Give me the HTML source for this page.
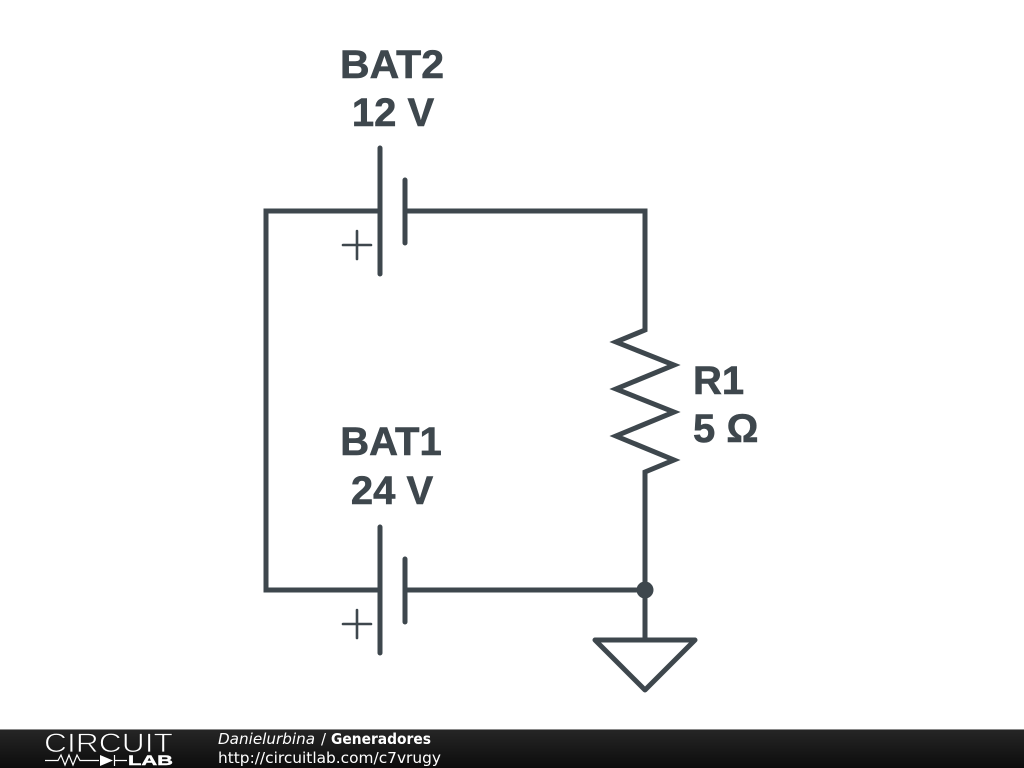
<!DOCTYPE html>
<html><head><meta charset="utf-8"><style>
html,body{margin:0;padding:0;background:#fff;width:1024px;height:768px;overflow:hidden}
svg{display:block}
.l{font:bold 40px "Liberation Sans",sans-serif;fill:#3e474d;stroke:#3e474d;stroke-width:.6}
.f{font-size:15px;font-family:"DejaVu Sans",sans-serif;fill:#fff}
</style></head><body>
<svg width="1024" height="768" viewBox="0 0 1024 768" xmlns="http://www.w3.org/2000/svg">
<defs><linearGradient id="g" x1="0" y1="0" x2="0" y2="1"><stop offset="0" stop-color="#262626"/><stop offset="1" stop-color="#0c0c0c"/></linearGradient></defs>
<rect width="1024" height="768" fill="#fff"/>
<g fill="none" stroke="#3e474d" stroke-width="5" stroke-linecap="round" stroke-linejoin="miter">
<path d="M380 211H266V590H380M405 211H645V330L616 342L674 365L616 389L674 412L616 436L674 460L645 472V640M405 590H645" stroke-linecap="butt" stroke-linejoin="miter"/>
<path d="M380 148V274M405 180V243M380 527V653M405 559V622"/>
<path d="M595 640H695L645 690Z" stroke-linejoin="round"/>
</g>
<g fill="none" stroke="#3e474d" stroke-width="2.600" stroke-linecap="round">
<path d="M343 245H371M357 231V259M343 624H371M357 610V638"/>
</g>
<circle cx="645" cy="590" r="8.500" fill="#3e474d"/>
<text class="l" x="392" y="78" text-anchor="middle" textLength="104" lengthAdjust="spacingAndGlyphs">BAT2</text>
<text class="l" x="393" y="126" text-anchor="middle">12 V</text>
<text class="l" x="391" y="455" text-anchor="middle">BAT1</text>
<text class="l" x="392" y="504" text-anchor="middle">24 V</text>
<text class="l" x="693" y="394">R1</text>
<text class="l" x="693" y="442">5 Ω</text>
<rect x="0" y="729" width="1024" height="39" fill="url(#g)"/>
<rect x="0" y="729" width="1024" height="1" fill="#8a8a8a"/>
<text x="44" y="752" font-family="Liberation Sans,sans-serif" font-size="26.500" fill="#fff" stroke="#1c1c1c" stroke-width=".8" textLength="129" lengthAdjust="spacingAndGlyphs">CIRCUIT</text>
<path d="M45 760.500H58L61 755L65 765L69 755L73 765L77 755L80 760.500H99M114.500 755V766M114.500 760.500H127" fill="none" stroke="#fff" stroke-width="1.200"/>
<path d="M100 755L113 760.500L100 766Z" fill="#fff"/>
<text x="128" y="765" font-family="Liberation Sans,sans-serif" font-size="14" font-weight="bold" fill="#fff" stroke="#fff" stroke-width=".4" textLength="45" lengthAdjust="spacingAndGlyphs">LAB</text>
<text class="f" x="218" y="744" font-style="italic" textLength="97" lengthAdjust="spacingAndGlyphs">Danielurbina</text>
<text class="f" x="321" y="744">/</text>
<text class="f" x="331" y="744" font-weight="bold" textLength="100" lengthAdjust="spacingAndGlyphs">Generadores</text>
<text class="f" x="218" y="763" textLength="223" lengthAdjust="spacingAndGlyphs">http://circuitlab.com/c7vrugy</text>
</svg>
</body></html>
